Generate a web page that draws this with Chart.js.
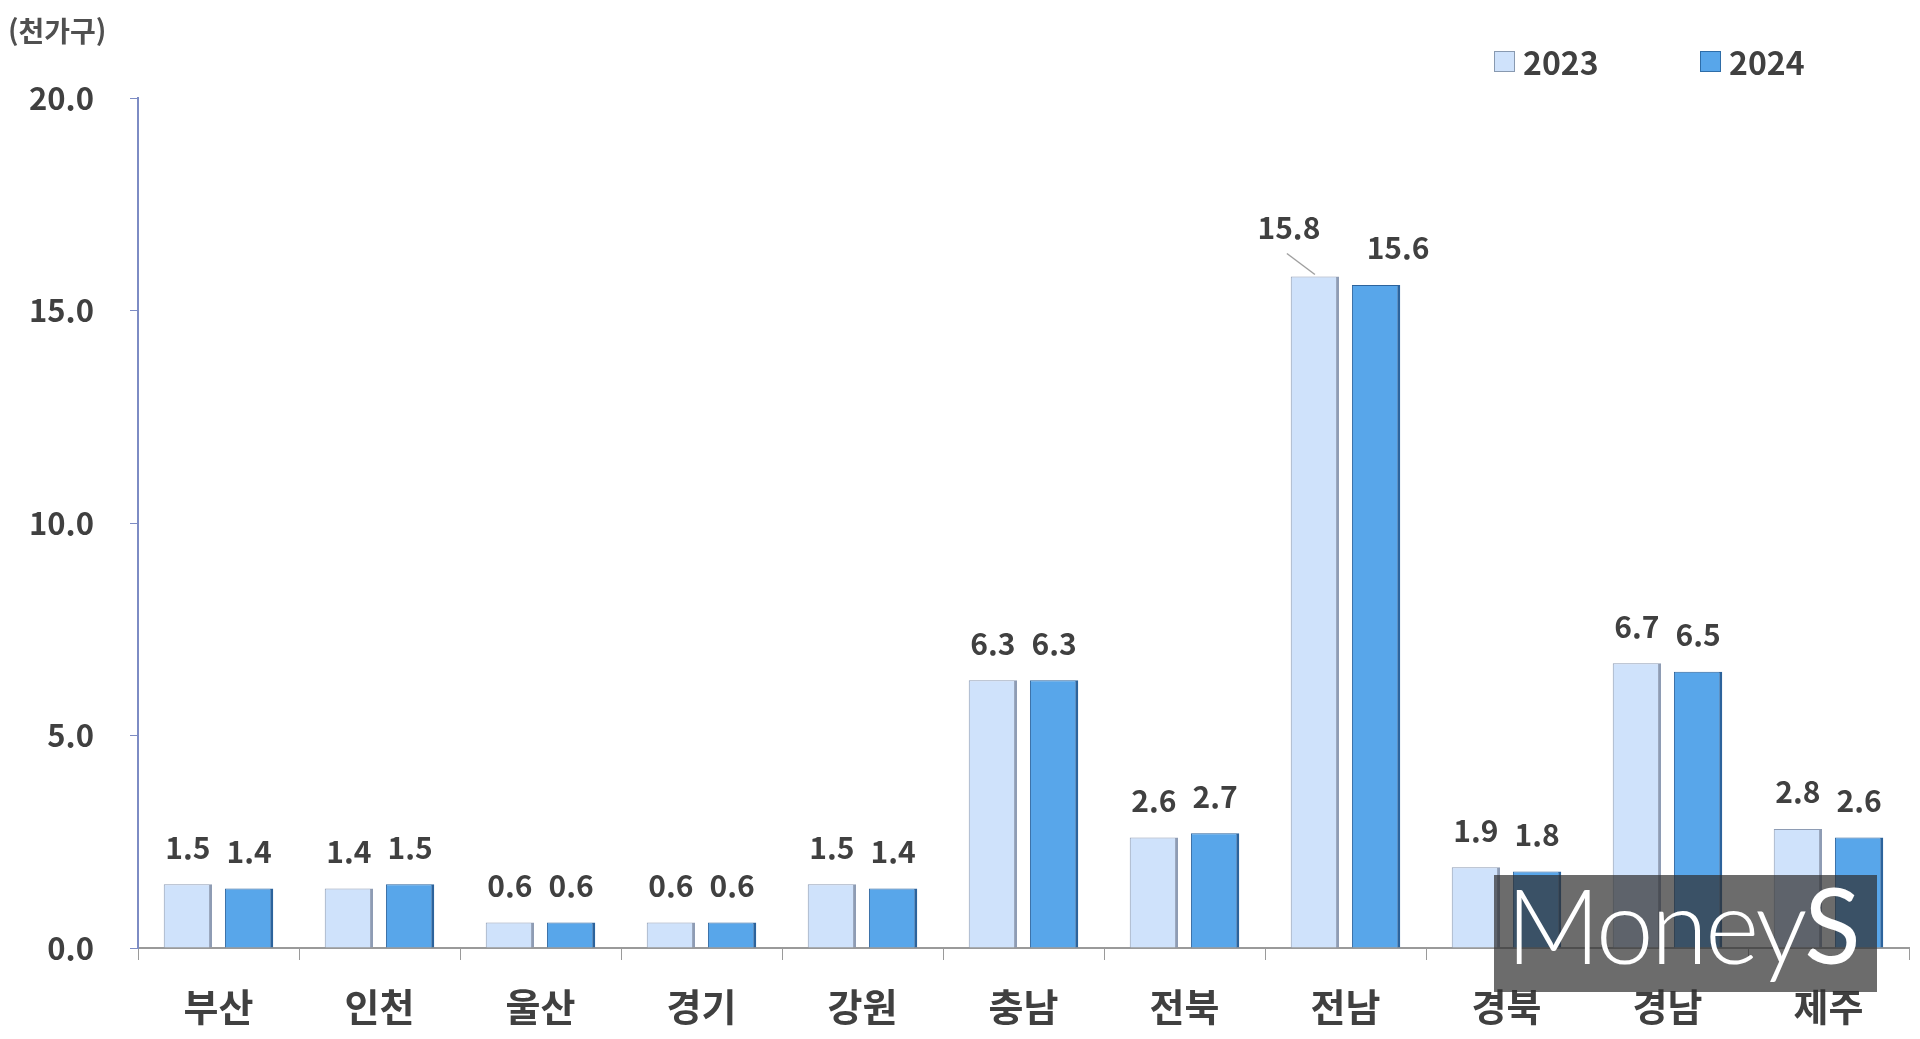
<!DOCTYPE html>
<html lang="ko">
<head>
<meta charset="utf-8">
<script src="https://cdn.jsdelivr.net/npm/chart.js@4/dist/chart.umd.min.js"></script>
<style>
  html, body { margin: 0; padding: 0; background: #fff; }
  #wrap { position: relative; width: 1920px; height: 1039px; font-family: "Noto Sans CJK KR", "Noto Sans", sans-serif; }
  #unit { position: absolute; left: 8px; top: 10px; font-size: 28px; font-weight: 700; color: #505050; }
  .leg { position: absolute; top: 38px; font-size: 32px; font-weight: 700; color: #404040; display: flex; align-items: center; }
  .leg i { display: inline-block; width: 19px; height: 19px; margin-right: 8px; border: 1px solid #8899b0; }
  #mark { position: absolute; left: 1494px; top: 875px; width: 383px; height: 117px; background: rgba(45,45,45,0.7); }
  #mark span { position: absolute; left: 12px; top: -14px; font-family: Lato, "Open Sans", sans-serif; font-weight: 300; font-size: 104px; color: #fff; letter-spacing: -3px; }
  #mark b { font-weight: 400; }
</style>
</head>
<body>
<div id="wrap">
  <canvas id="chart" width="1920" height="1039"></canvas>
  <div id="unit">(천가구)</div>
  <div class="leg" style="left:1494px"><i style="background:#cfe2fb"></i>2023</div>
  <div class="leg" style="left:1700px"><i style="background:#58a6ea;border-color:#2e6da8"></i>2024</div>
  <div id="mark"><span>Money<b>S</b></span></div>
</div>
<script>
// Data
const regions = ["부산", "인천", "울산", "경기", "강원", "충남", "전북", "전남", "경북", "경남", "제주"];
const years = ["2023", "2024"];
const values2023 = [1.5, 1.4, 0.6, 0.6, 1.5, 6.3, 2.6, 15.8, 1.9, 6.7, 2.8];
const values2024 = [1.4, 1.5, 0.6, 0.6, 1.4, 6.3, 2.7, 15.6, 1.8, 6.5, 2.6];
const yTicks = [0, 5, 10, 15, 20];

const textColor = "#404040";
const krFont = '"Noto Sans CJK KR", "Noto Sans", sans-serif';

// value labels above bars
const valueLabels = {
  id: "valueLabels",
  afterDatasetsDraw(chart) {
    const c = chart.ctx;
    c.save();
    c.font = "bold 30px " + krFont;
    c.fillStyle = textColor;
    c.textAlign = "center";
    c.textBaseline = "middle";
    chart.data.datasets.forEach((ds, di) => {
      chart.getDatasetMeta(di).data.forEach((bar, i) => {
        let x = bar.x, y = bar.y - 37;
        // the tallest 2023 bar has its label pushed left with a leader line
        if (di === 0 && ds.data[i] === Math.max(...values2023)) {
          x -= 26; y -= 12;
          c.strokeStyle = "#a0a0a0";
          c.lineWidth = 1.5;
          c.beginPath();
          c.moveTo(x - 2, y + 26);
          c.lineTo(bar.x, bar.y - 2);
          c.stroke();
        }
        if (di === 1 && ds.data[i] === Math.max(...values2024)) { x += 22; }
        c.fillText(ds.data[i].toFixed(1), x, y);
      });
    });
    c.restore();
  }
};

new Chart(document.getElementById("chart"), {
  type: "bar",
  data: {
    labels: regions,
    datasets: [
      {
        label: years[0], data: values2023,
        backgroundColor: "#cfe2fb",
        borderColor: "#8e9cb4",
        borderWidth: { left: 1, top: 1, right: 3, bottom: 0 },
        borderSkipped: false
      },
      {
        label: years[1], data: values2024,
        backgroundColor: "#58a6ea",
        borderColor: "#2c639c",
        borderWidth: { left: 1, top: 1, right: 3, bottom: 0 },
        borderSkipped: false
      }
    ]
  },
  options: {
    responsive: false,
    animation: false,
    devicePixelRatio: 1,
    categoryPercentage: 0.76,
    barPercentage: 0.79,
    layout: { padding: { top: 98, right: 11, left: 0, bottom: 0 } },
    plugins: { legend: { display: false }, tooltip: { enabled: false } },
    scales: {
      x: {
        grid: { display: true, drawOnChartArea: false, drawTicks: true, tickLength: 12, color: "#9a9a9a", offset: true },
        border: { display: true, color: "#9a9a9a", width: 2 },
        ticks: { color: textColor, font: { family: krFont, size: 38, weight: "bold" }, padding: 24 },
        afterFit(s) { s.height = 91; }
      },
      y: {
        min: 0, max: 20,
        afterBuildTicks(s) { s.ticks = yTicks.map(v => ({ value: v })); },
        grid: { display: true, drawOnChartArea: false, drawTicks: true, tickLength: 8, color: "#7d8cc4" },
        border: { display: true, color: "#7d8cc4", width: 2 },
        ticks: { color: textColor, font: { family: krFont, size: 31, weight: "bold" }, padding: 36, callback: v => v.toFixed(1) },
        afterFit(s) { s.width = 138; }
      }
    }
  },
  plugins: [valueLabels]
});
</script>
</body>
</html>
